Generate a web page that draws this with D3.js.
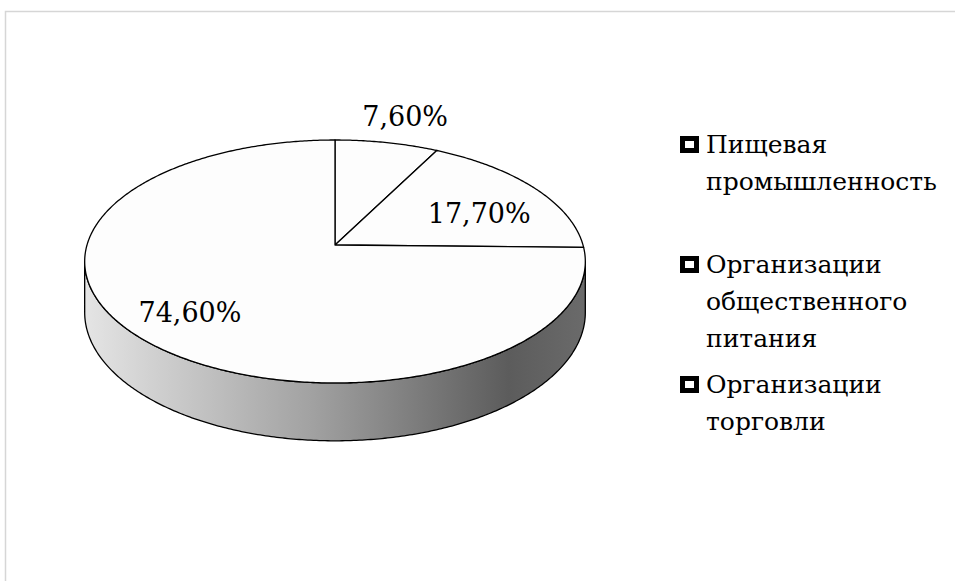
<!DOCTYPE html>
<html lang="ru">
<head>
  <meta charset="UTF-8" />
  <title>Структура</title>
  <script src="https://d3js.org/d3.v7.min.js"></script>
  <style>
    body { margin: 0; background: #fff; }
    svg { display: block; }
  </style>
</head>
<body>
  <svg id="chart" width="955" height="581"></svg>

  <script>
    // данные
    const categories = ["Пищевая промышленность", "Организации общественного питания", "Организации торговли"];
    const values = [7.6, 17.7, 74.6];
    const valueLabels = ["7,60%", "17,70%", "74,60%"];
    // строки легенды (как переносит Excel)
    const legendLines = [
      ["Пищевая", "промышленность"],
      ["Организации", "общественного", "питания"],
      ["Организации", "торговли"]
    ];

    const FONT = "'DejaVu Serif', 'Liberation Serif', serif";
    const svg = d3.select("#chart");

    // рамка области диаграммы
    svg.append("path")
      .attr("d", "M5.5,581 V11.5 H955")
      .attr("fill", "none")
      .attr("stroke", "#d6d6d6")
      .attr("stroke-width", 1.5);

    // простая перспектива для "объёмного" круга
    const P = { cx: 335, cy: 245, kx: 248, ky: 119.25, s: 0.1357, depth: 50 };
    function project(theta, r, h) {
      const u = r * Math.sin(theta), v = r * Math.cos(theta);
      const d = 1 + P.s * v;
      return [P.cx + P.kx * u / d, P.cy - P.ky * v / d + h * P.depth / d];
    }
    function arcPoints(a0, a1, r, h) {
      const n = Math.max(2, Math.ceil(Math.abs(a1 - a0) / 0.01));
      return d3.range(n + 1).map(i => project(a0 + (a1 - a0) * i / n, r, h));
    }
    const line = d3.line();

    // градиент боковой стенки
    const defs = svg.append("defs");
    const grad = defs.append("linearGradient")
      .attr("id", "side")
      .attr("gradientUnits", "userSpaceOnUse")
      .attr("x1", P.cx - P.kx).attr("x2", P.cx + P.kx)
      .attr("y1", 0).attr("y2", 0);
    grad.append("stop").attr("offset", "0%").attr("stop-color", "#e4e4e4");
    grad.append("stop").attr("offset", "45%").attr("stop-color", "#a2a2a2");
    grad.append("stop").attr("offset", "85%").attr("stop-color", "#5c5c5c");
    grad.append("stop").attr("offset", "100%").attr("stop-color", "#6a6a6a");

    // боковая стенка: передняя половина верхнего и нижнего контура
    const aR = Math.acos(-P.s), aL = 2 * Math.PI - aR;
    const sidePts = arcPoints(aR, aL, 1, 0).concat(arcPoints(aL, aR, 1, 1));
    svg.append("path")
      .attr("d", line(sidePts) + "Z")
      .attr("fill", "url(#side)")
      .attr("stroke", "#000")
      .attr("stroke-width", 1.3);

    // верхняя грань — секторы
    const pie = d3.pie().sort(null).value(d => d)(values);
    svg.selectAll("path.slice")
      .data(pie).enter().append("path")
      .attr("class", "slice")
      .attr("d", d => line([project(0, 0, 0)].concat(arcPoints(d.startAngle, d.endAngle, 1, 0))) + "Z")
      .attr("fill", "#fdfdfd")
      .attr("stroke", "#000")
      .attr("stroke-width", 1.3)
      .attr("stroke-linejoin", "round");

    // подписи значений
    const labelR = [1.3, 0.72, 0.75];
    const labelDx = [5, -2, -2];
    const labelDy = [0, 10, 0];
    svg.selectAll("text.val")
      .data(pie).enter().append("text")
      .attr("class", "val")
      .attr("text-anchor", "middle")
      .attr("dominant-baseline", "central")
      .attr("font-family", FONT)
      .attr("font-size", 27)
      .each(function(d, i) {
        const p = project((d.startAngle + d.endAngle) / 2, labelR[i], 0);
        d3.select(this).attr("x", p[0] + labelDx[i]).attr("y", p[1] + labelDy[i]);
      })
      .text((d, i) => valueLabels[i]);

    // легенда
    const legX = 680, legY0 = 153, legStep = 120, lineH = 37;
    const leg = svg.selectAll("g.leg")
      .data(categories).enter().append("g")
      .attr("class", "leg")
      .attr("transform", (d, i) => `translate(${legX},${legY0 + i * legStep})`);
    leg.append("rect")
      .attr("x", 2.5).attr("y", -14.5)
      .attr("width", 14).attr("height", 12)
      .attr("fill", "#fff")
      .attr("stroke", "#000")
      .attr("stroke-width", 5);
    leg.each(function(d, i) {
      d3.select(this).selectAll("text")
        .data(legendLines[i]).enter().append("text")
        .attr("x", 26)
        .attr("y", (t, j) => j * lineH)
        .attr("font-family", FONT)
        .attr("font-size", 25)
        .text(t => t);
    });
  </script>
</body>
</html>
